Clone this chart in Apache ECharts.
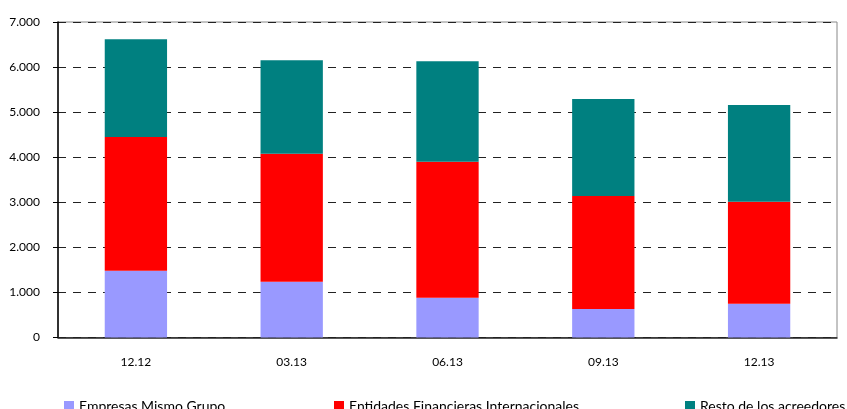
<!DOCTYPE html>
<html>
<head>
<meta charset="utf-8">
<script src="https://cdn.jsdelivr.net/npm/echarts@6/dist/echarts.min.js"></script>
<style>html,body{margin:0;padding:0;background:#fff;}#c{width:847px;height:409px;}</style>
</head>
<body>
<div id="c"></div>
<script>
const categories = ['12.12', '03.13', '06.13', '09.13', '12.13'];
const empresas = [1480, 1235, 880, 630, 750];
const entidades = [2970, 2840, 3020, 2510, 2260];
const resto = [2170, 2075, 2230, 2150, 2150];
const seriesNames = ['Empresas Mismo Grupo', 'Entidades Financieras Internacionales', 'Resto de los acreedores'];
const yTicks = [0, 1000, 2000, 3000, 4000, 5000, 6000, 7000];

const FONT = 'Lato';
const chart = echarts.init(document.getElementById('c'), null, {renderer: 'canvas'});
function fmt(v){ return String(v).replace(/\B(?=(\d{3})+(?!\d))/g, '.'); }
const legendBase = {
  top: 399, itemWidth: 10, itemHeight: 10, itemGap: 0,
  textStyle: {fontFamily: FONT, fontSize: 14, color: '#000'},
  icon: 'rect', padding: 0
};
chart.setOption({
  animation: false,
  backgroundColor: '#fff',
  grid: {left: 58, right: 10, top: 22, bottom: 71.5, show: true, borderColor: '#888', borderWidth: 1},
  legend: [
    Object.assign({}, legendBase, {left: 64, data: [seriesNames[0]]}),
    Object.assign({}, legendBase, {left: 334, data: [seriesNames[1]]}),
    Object.assign({}, legendBase, {left: 685, data: [seriesNames[2]]})
  ],
  xAxis: {
    type: 'category', data: categories,
    axisLine: {lineStyle: {color: '#222', width: 1.5}},
    axisTick: {inside: true, length: 4, lineStyle: {color: '#222'}},
    axisLabel: {fontFamily: FONT, fontSize: 12, color: '#000', margin: 19}
  },
  yAxis: {
    type: 'value', min: yTicks[0], max: yTicks[yTicks.length-1], interval: 1000,
    axisLine: {show: true, lineStyle: {color: '#000', width: 1.5}},
    axisTick: {show: true, length: 5, lineStyle: {color: '#000'}},
    axisLabel: {fontFamily: FONT, fontSize: 12, color: '#000', margin: 18, formatter: fmt},
    splitLine: {show: true, lineStyle: {color: '#222', type: [8, 7], width: 1}}
  },
  series: [
    {name: seriesNames[0], type: 'bar', stack: 't', data: empresas, barWidth: '40%', itemStyle: {color: '#9999FF'}},
    {name: seriesNames[1], type: 'bar', stack: 't', data: entidades, itemStyle: {color: '#FF0000'}},
    {name: seriesNames[2], type: 'bar', stack: 't', data: resto, itemStyle: {color: '#008080'}}
  ]
});
</script>
</body>
</html>
